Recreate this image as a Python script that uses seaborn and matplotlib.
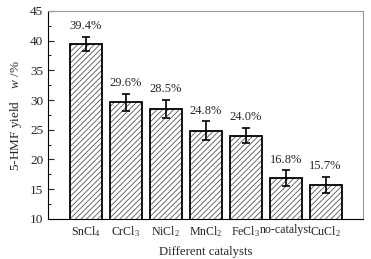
import numpy as np
import seaborn as sns
import matplotlib
matplotlib.use('Agg')
from matplotlib import pyplot as plt

catalysts = ['SnCl$_4$', 'CrCl$_3$', 'NiCl$_2$', 'MnCl$_2$', 'FeCl$_3$', 'no-catalyst', 'CuCl$_2$']
yields = [39.4, 29.6, 28.5, 24.8, 24.0, 16.8, 15.7]
errors = [1.15, 1.4, 1.5, 1.6, 1.3, 1.35, 1.3]
value_labels = ['39.4%', '29.6%', '28.5%', '24.8%', '24.0%', '16.8%', '15.7%']

sns.set_style('ticks')
plt.rcParams['font.family'] = ['Liberation Serif', 'DejaVu Serif']
plt.rcParams['mathtext.fontset'] = 'custom'
plt.rcParams['mathtext.rm'] = 'Liberation Serif'
plt.rcParams['mathtext.it'] = 'Liberation Serif:italic'
plt.rcParams['hatch.linewidth'] = 0.6

fig, ax = plt.subplots(figsize=(3.71, 2.59), dpi=100)
fig.subplots_adjust(left=0.13, right=0.978, top=0.958, bottom=0.155)

# hatch in gray, outline in black
sns.barplot(x=catalysts, y=yields, color='white', edgecolor='#555555', linewidth=0,
            hatch='//////', width=0.8, ax=ax)
sns.barplot(x=catalysts, y=yields, fill=False, edgecolor='black', linewidth=1.3,
            width=0.8, ax=ax)

x = np.arange(len(catalysts))
ax.errorbar(x, yields, yerr=errors, fmt='none', ecolor='black', elinewidth=1.2,
            capsize=2.6, capthick=1.2)
for i in range(len(x)):
    ax.annotate(value_labels[i], (x[i], yields[i] + errors[i]), xytext=(0, 3.5),
                textcoords='offset points', ha='center', va='bottom', fontsize=9)

ax.set_ylim(10, 45)
ax.set_xlim(-0.94, 6.93)
ax.set_yticks(np.arange(10, 46, 5))
ax.set_yticks(np.arange(10, 45, 2.5), minor=True)
ax.tick_params(axis='both', which='both', direction='in')
ax.tick_params(axis='y', which='major', length=4, width=0.8, labelsize=9.5)
ax.tick_params(axis='y', which='minor', length=2, width=0.8)
ax.tick_params(axis='x', length=2, width=0.6, pad=4, labelsize=8.6)
for s in ['top', 'right']:
    ax.spines[s].set_color('#999999')
    ax.spines[s].set_linewidth(0.8)
for s in ['left', 'bottom']:
    ax.spines[s].set_color('black')
    ax.spines[s].set_linewidth(0.8)

ax.set_xlabel('Different catalysts', fontsize=9.2, labelpad=5)
ax.set_ylabel('5-HMF yield    $w$ /%', fontsize=9.5)

fig.savefig('out.png', dpi=100)
